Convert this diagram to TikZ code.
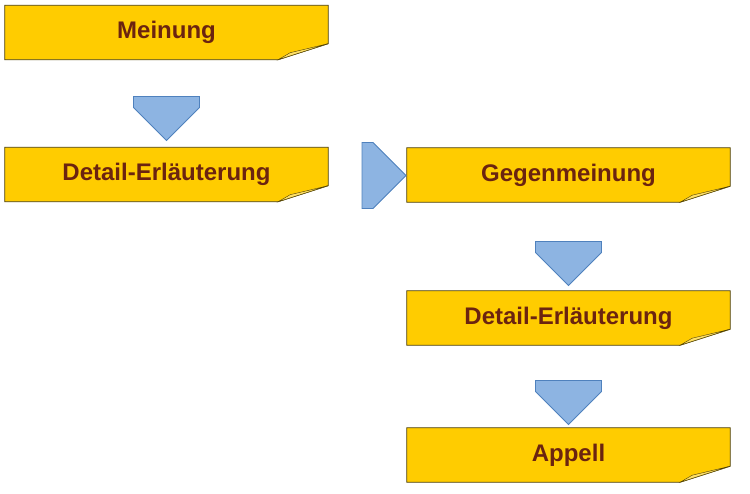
\documentclass[tikz,border=0pt]{standalone}
\usepackage{fontspec}
\setmainfont{Liberation Sans}
\usetikzlibrary{positioning,shapes.arrows,calc}
\definecolor{notegold}{HTML}{FFCC00}
\definecolor{notetext}{HTML}{6B2410}
\definecolor{arrowblue}{HTML}{8DB4E2}
\definecolor{arrowedge}{HTML}{4F81BD}
\tikzset{
  note/.style={minimum width=323pt,minimum height=54pt,inner sep=0pt,
    font=\fontsize{24}{28}\selectfont\bfseries,text=notetext},
  downarrow/.style={single arrow,draw=arrowedge,fill=arrowblue,thick,
    shape border rotate=270,minimum width=66pt,minimum height=44pt,
    single arrow head extend=0pt,single arrow tip angle=90,inner sep=0pt},
  rightarrow/.style={downarrow,shape border rotate=0}
}
\newcommand{\notebox}[1]{%
  \fill[notegold,draw=black!70!notegold,thick]
    (#1.north west) -- (#1.north east) -- ([yshift=16pt]#1.south east)
    -- ([xshift=-50pt]#1.south east) -- (#1.south west) -- cycle;
  \fill[notegold!60!white,draw=black!70!notegold,thin]
    ([xshift=-50pt]#1.south east) -- ([xshift=-38pt,yshift=7pt]#1.south east)
    -- ([yshift=16pt]#1.south east) -- cycle;
}
\begin{document}
\begin{tikzpicture}[x=1pt,y=-1pt]
  \useasboundingbox (0,0) rectangle (750,493);
  % boxes
  \node (meinung) [note] at (166.5,32.5) {};
  \node (detail1) [note] at (166.5,174.5) {};
  \node (gegen) [note] at (568.5,175) {};
  \node (detail2) [note] at (568.5,318) {};
  \node (appell) [note] at (568.5,455) {};
  \foreach \n in {meinung,detail1,gegen,detail2,appell} {\notebox{\n}}
  \node [note] at (meinung) {Meinung};
  \node [note] at (detail1) {Detail-Erläuterung};
  \node [note] at (gegen) {Gegenmeinung};
  \node [note] at (detail2) {Detail-Erläuterung};
  \node [note] at (appell) {Appell};
  % arrows
  \node (a1) [downarrow] at (166.5,102) {};
  \node (a2) [rightarrow] at (367.5,175.5) {};
  \node (a3) [downarrow] at (568.5,247) {};
  \node (a4) [downarrow] at (568.5,386) {};
\end{tikzpicture}
\end{document}
